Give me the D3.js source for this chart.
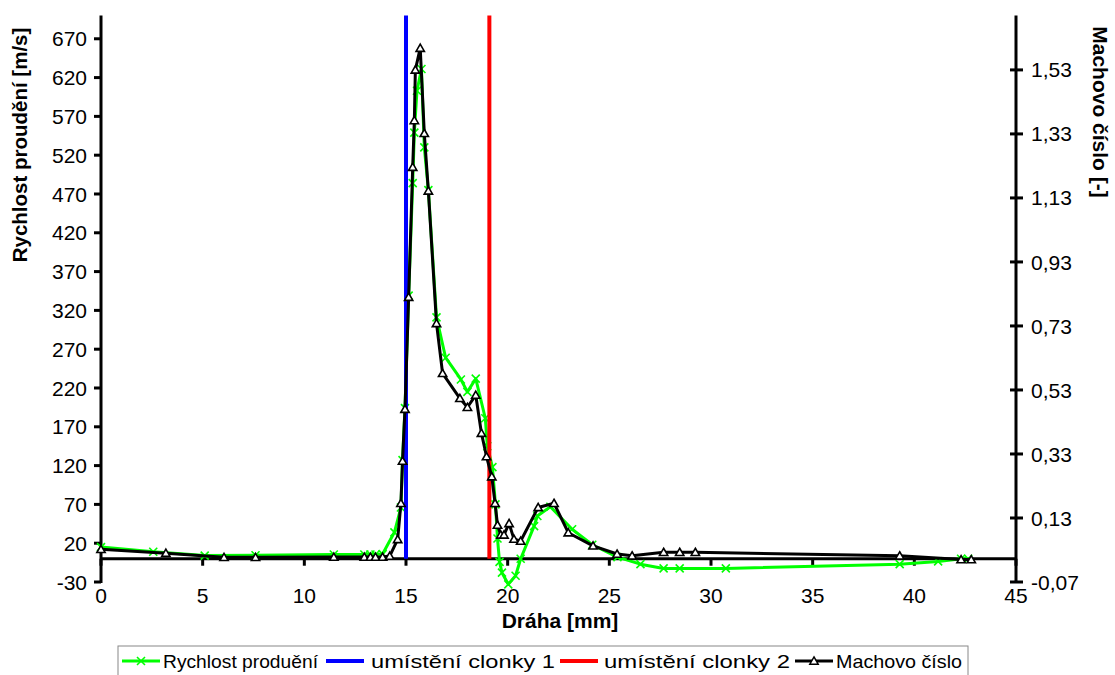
<!DOCTYPE html>
<html><head><meta charset="utf-8">
<script src="https://cdn.jsdelivr.net/npm/d3@7"></script>
<style>
body{margin:0;background:#fff;}
svg{display:block;font-family:"Liberation Sans",Arial,sans-serif;}
</style></head>
<body><svg id="c" width="1115" height="675"></svg>
<script>
// ---- data ----
const velX = [0,2.57,5.1,7.6,11.45,12.95,13.25,13.5,13.85,14.43,14.75,14.83,14.95,15.13,15.33,15.41,15.54,15.76,15.9,16.1,16.5,16.95,17.7,18.02,18.43,18.9,19.0,19.25,19.4,19.5,19.6,19.72,20.03,20.39,20.64,21.3,21.46,22.1,23.17,24.16,25.4,26.53,27.67,28.46,30.73,39.28,41.17,42.3,42.65];
const velY = [15,9,4,4.5,5.5,5.5,5.5,5.5,6,34,66,127,194,339,484,549,603,631,530,475,311,259,231,215,232,181,145,118,70,26,-4,-18,-33,-22,0,42,55,67,38,18,2,-7,-12.5,-12.5,-12.5,-7,-3.5,0,0];
const machX = [0,3.19,6.05,7.6,11.45,12.95,13.25,13.5,13.85,14.2,14.59,14.75,14.83,14.95,15.13,15.33,15.41,15.46,15.7,15.9,16.1,16.5,16.8,17.65,18.02,18.43,18.71,18.96,19.22,19.38,19.5,19.66,19.82,20.07,20.31,20.64,21.5,22.28,22.98,24.2,25.38,26.12,27.67,28.46,29.23,39.28,42.3,42.8];
const machY = [0.032,0.020,0.007,0.007,0.008,0.008,0.008,0.008,0.008,0.011,0.063,0.176,0.308,0.47,0.82,1.226,1.372,1.53,1.598,1.332,1.152,0.738,0.582,0.504,0.476,0.514,0.395,0.322,0.259,0.176,0.108,0.077,0.077,0.113,0.064,0.058,0.163,0.176,0.084,0.043,0.0175,0.012,0.023,0.023,0.023,0.012,0.0,0.0];
const clonka1 = 15;
const clonka2 = 19.1;
const xTicks = [0,5,10,15,20,25,30,35,40,45];
const leftTicks = [-30,20,70,120,170,220,270,320,370,420,470,520,570,620,670];
const rightTicks = [-0.07,0.13,0.33,0.53,0.73,0.93,1.13,1.33,1.53];
const legendLabels = ["Rychlost produění","umístění clonky 1","umístění clonky 2","Machovo číslo"];

const svg = d3.select("#c");
const x = d3.scaleLinear().domain([0,45]).range([101,1016]);
const yL = d3.scaleLinear().domain([-30,700]).range([582,15.5]);
const yR = d3.scaleLinear().domain([-0.07,1.70]).range([582,15.5]);
const y0 = yL(0);

// x axis at zero
svg.append("line").attr("x1",x(0)).attr("x2",x(45)).attr("y1",y0).attr("y2",y0)
  .attr("stroke","#000").attr("stroke-width",3);
svg.selectAll(".xt").data(xTicks).enter().append("line")
  .attr("x1",d=>x(d)).attr("x2",d=>x(d)).attr("y1",y0).attr("y2",y0+7)
  .attr("stroke","#000").attr("stroke-width",3);
svg.selectAll(".xl").data(xTicks).enter().append("text")
  .attr("x",d=>x(d)).attr("y",603).attr("text-anchor","middle")
  .attr("font-size",21).text(d=>d);

// left axis
svg.append("line").attr("x1",x(0)).attr("x2",x(0)).attr("y1",yL(700)).attr("y2",yL(-30)+1)
  .attr("stroke","#000").attr("stroke-width",3);
svg.selectAll(".lt").data(leftTicks).enter().append("line")
  .attr("x1",x(0)-7).attr("x2",x(0)).attr("y1",d=>yL(d)).attr("y2",d=>yL(d))
  .attr("stroke","#000").attr("stroke-width",3);
svg.selectAll(".ll").data(leftTicks).enter().append("text")
  .attr("x",x(0)-14).attr("y",d=>yL(d)).attr("dy","0.36em").attr("text-anchor","end")
  .attr("font-size",21).text(d=>d);

// right axis
svg.append("line").attr("x1",x(45)).attr("x2",x(45)).attr("y1",yR(1.70)).attr("y2",yR(-0.07)+1)
  .attr("stroke","#000").attr("stroke-width",3);
svg.selectAll(".rt").data(rightTicks).enter().append("line")
  .attr("x1",x(45)-6).attr("x2",x(45)+7).attr("y1",d=>yR(d)).attr("y2",d=>yR(d))
  .attr("stroke","#000").attr("stroke-width",3);
const fmtR = d3.format(".2f");
svg.selectAll(".rl").data(rightTicks).enter().append("text")
  .attr("x",x(45)+15).attr("y",d=>yR(d)).attr("dy","0.36em").attr("text-anchor","start")
  .attr("font-size",21).text(d=>fmtR(d).replace(".",",").replace("−","-"));

// titles
svg.append("text").attr("x",560).attr("y",628).attr("text-anchor","middle")
  .attr("font-size",21).attr("font-weight","bold").text("Dráha [mm]");
svg.append("text").attr("transform","translate(27,145) rotate(-90)").attr("text-anchor","middle")
  .attr("font-size",20.5).attr("font-weight","bold").text("Rychlost proudění [m/s]");
svg.append("text").attr("transform","translate(1093,112) rotate(90)").attr("text-anchor","middle")
  .attr("font-size",21).attr("font-weight","bold").text("Machovo číslo [-]");

// series: velocity
const velData = velX.map((d,i)=>[d,velY[i]]);
const machData = machX.map((d,i)=>[d,machY[i]]);
svg.append("path").datum(velData)
  .attr("d",d3.line().x(d=>x(d[0])).y(d=>yL(d[1])))
  .attr("fill","none").attr("stroke","#00ff00").attr("stroke-width",3).attr("stroke-linejoin","round");
const xm = 4;
svg.selectAll(".vm").data(velData).enter().append("path")
  .attr("d",d=>{const cx=x(d[0]),cy=yL(d[1]);return `M${cx-xm},${cy-xm}L${cx+xm},${cy+xm}M${cx-xm},${cy+xm}L${cx+xm},${cy-xm}`;})
  .attr("stroke","#00ff00").attr("stroke-width",1.6).attr("fill","none");

// vertical lines
svg.append("line").attr("x1",x(clonka1)).attr("x2",x(clonka1)).attr("y1",yL(700)).attr("y2",yL(0))
  .attr("stroke","#0000ff").attr("stroke-width",4);
svg.append("line").attr("x1",x(clonka2)).attr("x2",x(clonka2)).attr("y1",yL(700)).attr("y2",yL(0))
  .attr("stroke","#ff0000").attr("stroke-width",4);

// Mach
svg.append("path").datum(machData)
  .attr("d",d3.line().x(d=>x(d[0])).y(d=>yR(d[1])))
  .attr("fill","none").attr("stroke","#000").attr("stroke-width",3).attr("stroke-linejoin","round");
const tri = d3.symbol().type(d3.symbolTriangle).size(30);
svg.selectAll(".mm").data(machData).enter().append("path")
  .attr("d",tri).attr("transform",d=>`translate(${x(d[0])},${yR(d[1])+0.8})`)
  .attr("fill","#fff").attr("stroke","#000").attr("stroke-width",1.6);

// legend
const lg = svg.append("g");
lg.append("rect").attr("x",118).attr("y",646).attr("width",850).attr("height",34)
  .attr("fill","#fff").attr("stroke","#888").attr("stroke-width",1);
const items = [
  {sx:122, tx:163, w:155, c:"#00ff00", m:"x"},
  {sx:326, tx:371, w:184, c:"#0000ff", m:null},
  {sx:560, tx:604, w:186, c:"#ff0000", m:null},
  {sx:795, tx:836, w:126, c:"#000", m:"t"}
];
const ly = 661;
items.forEach((it,i)=>{
  lg.append("line").attr("x1",it.sx).attr("x2",it.sx+38).attr("y1",ly).attr("y2",ly)
    .attr("stroke",it.c).attr("stroke-width",it.m?3:4);
  const cx = it.sx+19;
  if(it.m==="x"){
    lg.append("path").attr("d",`M${cx-xm},${ly-xm}L${cx+xm},${ly+xm}M${cx-xm},${ly+xm}L${cx+xm},${ly-xm}`)
      .attr("stroke",it.c).attr("stroke-width",1.6);
  } else if(it.m==="t"){
    lg.append("path").attr("d",tri).attr("transform",`translate(${cx},${ly+0.8})`)
      .attr("fill","#fff").attr("stroke","#000").attr("stroke-width",1.5);
  }
  lg.append("text").attr("x",it.tx).attr("y",ly).attr("dy","0.36em").attr("font-size",19)
    .attr("textLength",it.w).attr("lengthAdjust","spacingAndGlyphs")
    .text(legendLabels[i]);
});
</script></body></html>
